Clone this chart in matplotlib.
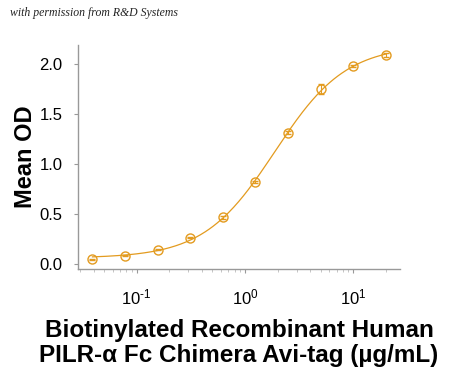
import matplotlib
matplotlib.use("Agg")
import matplotlib.pyplot as plt
import numpy as np

plt.rcParams['mathtext.fontset'] = 'custom'
plt.rcParams['mathtext.rm'] = 'Liberation Sans'
plt.rcParams['mathtext.it'] = 'Liberation Sans'
plt.rcParams['mathtext.bf'] = 'Liberation Sans:bold'

# concentrations (ug/mL), 2-fold dilution series
conc = [0.039, 0.078, 0.156, 0.3125, 0.625, 1.25, 2.5, 5.0, 10.0, 20.0]
mean_od = [0.05, 0.084, 0.145, 0.265, 0.467, 0.817, 1.314, 1.754, 1.98, 2.087]
err_od = [0.005, 0.005, 0.008, 0.008, 0.015, 0.01, 0.012, 0.05, 0.01, 0.02]
xtick_labels = ['10$^{\u20101}$', '10$^{0}$', '10$^{1}$']

x = np.array(conc)
y = np.array(mean_od)


def four_pl(p, c):
    bottom, top, ec50, hill = p
    return bottom + (top - bottom) / (1.0 + (ec50 / c) ** hill)


# 4PL fit with a small damped Gauss-Newton loop
p = np.array([0.05, 2.2, 2.0, 1.2])
lam = 1e-3
for _ in range(200):
    r = y - four_pl(p, x)
    J = np.empty((len(x), 4))
    for k in range(4):
        dp = np.zeros(4)
        dp[k] = 1e-6 * max(abs(p[k]), 1e-3)
        J[:, k] = (four_pl(p + dp, x) - four_pl(p, x)) / dp[k]
    A = J.T @ J
    step = np.linalg.solve(A + lam * np.diag(np.diag(A)), J.T @ r)
    p_new = p + step
    if np.sum((y - four_pl(p_new, x)) ** 2) < np.sum(r ** 2):
        p = p_new
        lam *= 0.3
    else:
        lam *= 10

xs = np.logspace(np.log10(conc[0]), np.log10(conc[-1]), 300)

col = '#E39B1F'
fig = plt.figure(figsize=(4.5, 3.76), dpi=100)
ax = fig.add_axes([78 / 450, 1 - 269 / 376, 322 / 450, 224 / 376])

ax.plot(xs, four_pl(p, xs), color=col, lw=0.9)
ax.errorbar(conc, mean_od, yerr=err_od, fmt='o', mfc='none', mec=col, ecolor=col,
            ms=6.5, mew=1.0, elinewidth=0.8, capsize=2.5, capthick=0.8)

ax.set_xscale('log')
ax.set_xlim(0.0287, 27)
ax.set_ylim(-0.05, 2.19)
ax.set_yticks([0.0, 0.5, 1.0, 1.5, 2.0])
ax.set_yticklabels(['0.0', '0.5', '1.0', '1.5', '2.0'])
ax.set_xticks([0.1, 1, 10])
ax.set_xticklabels(xtick_labels)

for s in ['top', 'right']:
    ax.spines[s].set_visible(False)
for s in ['left', 'bottom']:
    ax.spines[s].set_color('#999999')
    ax.spines[s].set_linewidth(1.0)

ax.tick_params(axis='both', which='major', length=3, width=0.8, color='#999999',
               labelsize=12, labelcolor='black', pad=8)
ax.tick_params(axis='x', which='major', pad=10)
ax.tick_params(axis='x', which='minor', length=2, width=0.6, color='#bbbbbb')
for lab in ax.get_xticklabels() + ax.get_yticklabels():
    lab.set_fontfamily('Liberation Sans')

ax.set_ylabel('Mean OD', fontsize=17, fontweight='bold', family='Liberation Sans', labelpad=2)
ax.set_xlabel('Biotinylated Recombinant Human\nPILR-α Fc Chimera Avi-tag (µg/mL)',
              fontsize=17.5, fontweight='bold', family='Liberation Sans', labelpad=9,
              linespacing=1.1)

fig.text(0.022, 0.958, 'with permission from R&D Systems', fontsize=8.5,
         style='italic', family='Liberation Serif', color='#222222')

fig.savefig('out.png', dpi=100)
